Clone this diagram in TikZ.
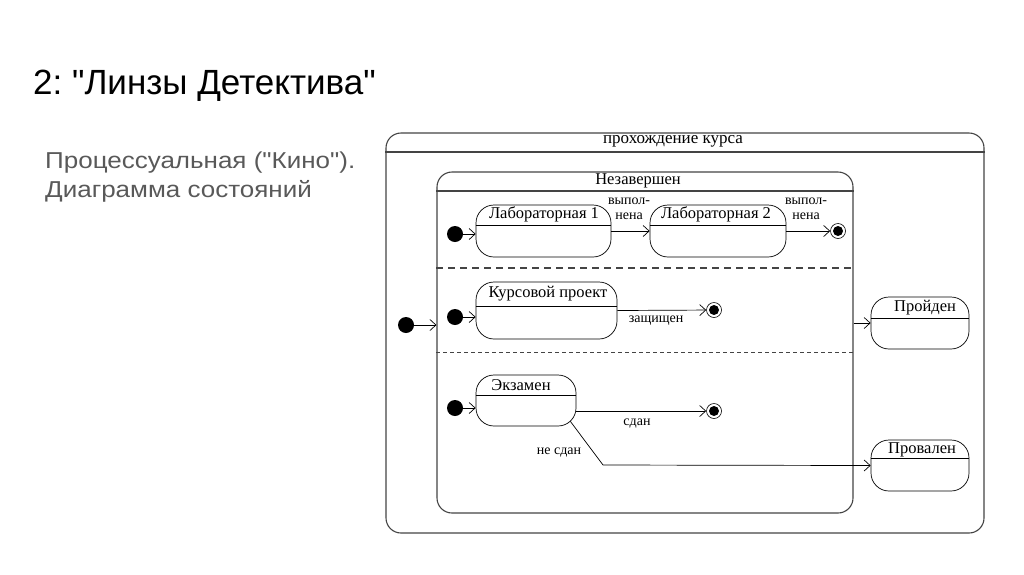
\documentclass[tikz,border=0pt]{standalone}
\usepackage{fontspec}
\setmainfont{Liberation Serif}
\newfontfamily\sansf{Liberation Sans}
\usetikzlibrary{arrows.meta,calc}
\definecolor{linec}{HTML}{444444}
\definecolor{subgray}{HTML}{595959}
\frenchspacing
\tikzset{
  frame/.style={draw=linec, line width=1.1pt, rounded corners=15pt, inner sep=0pt},
  statebox/.style={draw=black, line width=0.7pt, rounded corners=18pt, inner sep=0pt},
  initdot/.style={circle, fill=black, minimum size=16pt, inner sep=0pt},
  finaldot/.style={circle, draw=black, line width=0.6pt, fill=white, minimum size=15pt, inner sep=0pt, path picture={\fill[black] (path picture bounding box.center) circle (5pt);}},
  trans/.style={draw=black, line width=0.7pt, -{Straight Barb[length=6pt,width=11pt]}},
  sname/.style={font=\fontsize{16.5}{18}\selectfont, inner sep=1pt},
  tlabel/.style={font=\fontsize{14}{15.5}\selectfont, inner sep=1pt, align=center},
}
\begin{document}
\begin{tikzpicture}[x=1pt,y=-1pt]
\useasboundingbox (0,0) rectangle (1024,574);
% titles
\node[anchor=base west, inner sep=0pt, font=\sansf\fontsize{35}{40}\selectfont] (title) at (33,94) {2: "Линзы Детектива"};
\node[anchor=base west, inner sep=0pt, font=\sansf\fontsize{23}{30}\selectfont, text=subgray] (sub1) at (45,168) {\scalebox{1.13}[1]{Процессуальная ("Кино").}};
\node[anchor=base west, inner sep=0pt, font=\sansf\fontsize{23}{30}\selectfont, text=subgray] (sub2) at (45,197) {\scalebox{1.13}[1]{Диаграмма состояний}};
% outer frame
\node[frame, minimum width=598pt, minimum height=400pt] (course) at (685,333) {};
\draw[linec, line width=1.1pt] (course.west |- 0,152) -- (course.east |- 0,152);
\node[sname, font=\fontsize{17}{18}\selectfont] (coursename) at (673,141) {прохождение курса};
% inner composite
\node[frame, minimum width=416pt, minimum height=341pt] (inc) at (645,342.5) {};
\draw[linec, line width=1.1pt] (inc.west |- 0,191) -- (inc.east |- 0,191);
\node[sname] (incname) at (638,181) {Незавершен};
\draw[linec, line width=1.2pt, dash pattern=on 7pt off 5pt] (inc.west |- 0,268) -- (inc.east |- 0,268);
\draw[linec, line width=0.6pt, dash pattern=on 4pt off 3pt] (inc.west |- 0,352) -- (inc.east |- 0,352);
% region 1
\node[initdot] (i1) at (455,234) {};
\node[statebox, minimum width=135pt, minimum height=52pt] (lab1) at (543.5,231) {};
\draw[line width=0.8pt] (lab1.west |- 0,225) -- (lab1.east |- 0,225);
\node[sname] (lab1n) at (544,214) {Лабораторная 1};
\node[statebox, minimum width=136pt, minimum height=52pt] (lab2) at (718,231) {};
\draw[line width=0.8pt] (lab2.west |- 0,225) -- (lab2.east |- 0,225);
\node[sname] (lab2n) at (716,214) {Лабораторная 2};
\node[finaldot] (f1) at (838,231) {};
\draw[trans] (i1) -- (i1 -| lab1.west);
\draw[trans] (lab1.east) -- (lab2.west);
\draw[trans] (lab2.east) -- (f1);
\node[tlabel] (l1) at (629,209) {выпол-\\нена};
\node[tlabel] (l2) at (806,209) {выпол-\\нена};
% region 2
\node[initdot] (i2) at (455,317) {};
\node[statebox, minimum width=141pt, minimum height=57pt] (kp) at (546.5,310.5) {};
\draw[line width=0.8pt] (kp.west |- 0,306) -- (kp.east |- 0,306);
\node[sname] (kpn) at (548,294) {Курсовой проект};
\node[finaldot] (f2) at (714,310) {};
\draw[trans] (i2) -- (i2 -| kp.west);
\draw[trans] (kp.east) -- (f2);
\node[tlabel] (l3) at (656,321) {защищен};
% region 3
\node[initdot] (i3) at (455,408) {};
\node[statebox, minimum width=100pt, minimum height=51pt] (ex) at (526,400.5) {};
\draw[line width=0.8pt] (ex.west |- 0,395) -- (ex.east |- 0,395);
\node[sname] (exn) at (521,385) {Экзамен};
\node[finaldot] (f3) at (714,411) {};
\draw[trans] (i3) -- (i3 -| ex.west);
\draw[trans] (ex.east |- f3) -- (f3);
\node[tlabel] (l4) at (637,424) {сдан};
% outer initial
\node[initdot] (i0) at (406,325) {};
\draw[trans] (i0) -- (i0 -| inc.west);
% result states
\node[statebox, minimum width=98pt, minimum height=52pt] (pass) at (920,323) {};
\draw[line width=0.8pt] (pass.west |- 0,318) -- (pass.east |- 0,318);
\node[sname] (passn) at (925,308) {Пройден};
\node[statebox, minimum width=98pt, minimum height=51pt] (fail) at (920,465.5) {};
\draw[line width=0.8pt] (fail.west |- 0,458) -- (fail.east |- 0,458);
\node[sname] (failn) at (922,450) {Провален};
\draw[trans] (inc.east |- pass) -- (pass.west);
\coordinate (bend) at (603,465);
\draw[trans] ($(ex.south east)+(-6,-5)$) -- (bend) -- (fail.west);
\node[tlabel] (l5) at (559,453) {не сдан};
\end{tikzpicture}
\end{document}
